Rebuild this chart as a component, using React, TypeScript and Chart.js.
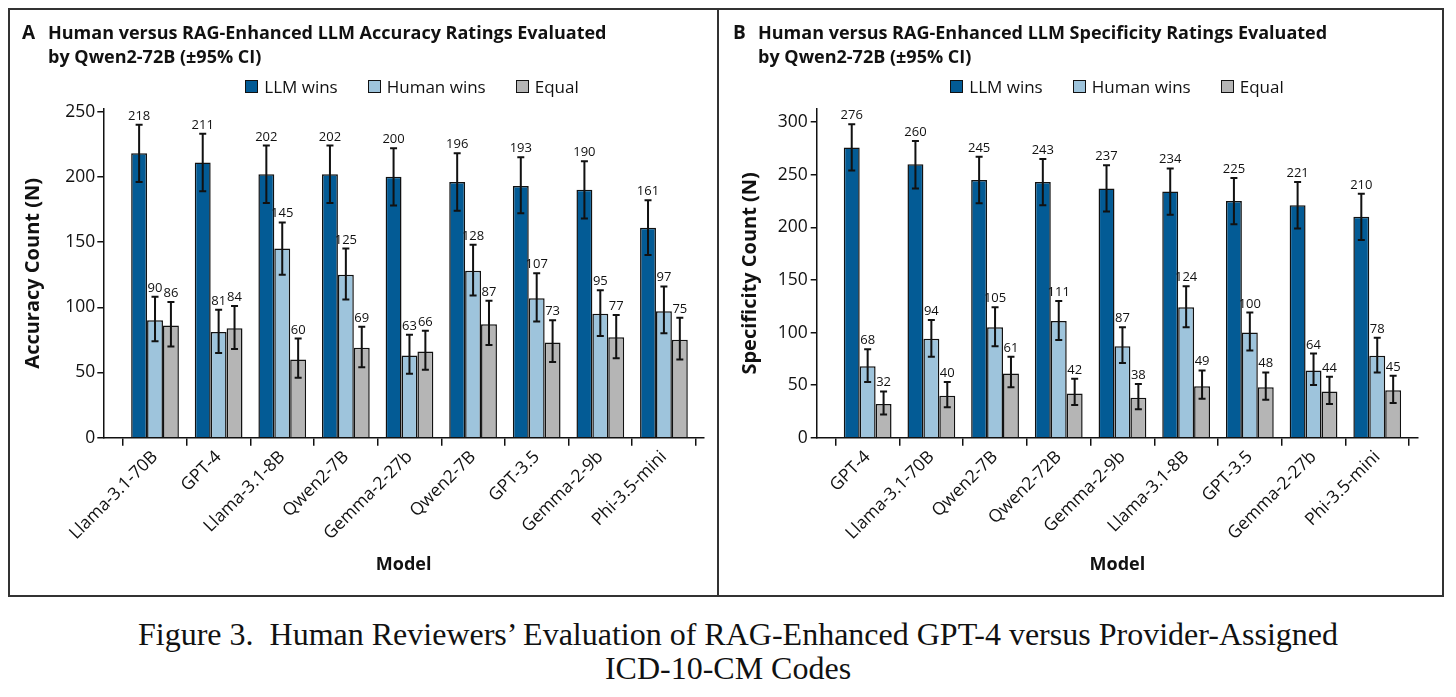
import React, { useEffect, useRef } from "react";
import { Chart, registerables } from "chart.js";
Chart.register(...registerables);

// ---------- Panel A: Accuracy ----------
const accCategories = ["Llama-3.1-70B", "GPT-4", "Llama-3.1-8B", "Qwen2-7B", "Gemma-2-27b", "Qwen2-7B", "GPT-3.5", "Gemma-2-9b", "Phi-3.5-mini"];
const accLLM = [218, 211, 202, 202, 200, 196, 193, 190, 161];
const accHuman = [90, 81, 145, 125, 63, 128, 107, 95, 97];
const accEqual = [86, 84, 60, 69, 66, 87, 73, 77, 75];
const accLLMLow = [196, 189, 180, 180, 178, 174, 172, 168, 140];
const accLLMHigh = [240, 233, 224, 224, 222, 218, 215, 212, 182];
const accHumanLow = [74, 65, 125, 106, 49, 109, 89, 78, 80];
const accHumanHigh = [108, 98, 165, 145, 79, 148, 126, 113, 116];
const accEqualLow = [70, 68, 46, 54, 52, 71, 58, 61, 60];
const accEqualHigh = [104, 101, 76, 85, 82, 105, 90, 94, 92];
const accTicks = [0, 50, 100, 150, 200, 250];

// ---------- Panel B: Specificity ----------
const specCategories = ["GPT-4", "Llama-3.1-70B", "Qwen2-7B", "Qwen2-72B", "Gemma-2-9b", "Llama-3.1-8B", "GPT-3.5", "Gemma-2-27b", "Phi-3.5-mini"];
const specLLM = [276, 260, 245, 243, 237, 234, 225, 221, 210];
const specHuman = [68, 94, 105, 111, 87, 124, 100, 64, 78];
const specEqual = [32, 40, 61, 42, 38, 49, 48, 44, 45];
const specLLMLow = [254, 237, 223, 221, 215, 212, 203, 199, 188];
const specLLMHigh = [298, 282, 267, 265, 259, 256, 247, 243, 232];
const specHumanLow = [53, 77, 87, 93, 71, 105, 83, 50, 62];
const specHumanHigh = [84, 112, 124, 130, 105, 144, 119, 80, 95];
const specEqualLow = [22, 29, 48, 31, 27, 37, 36, 32, 33];
const specEqualHigh = [44, 53, 77, 56, 51, 64, 62, 58, 59];
const specTicks = [0, 50, 100, 150, 200, 250, 300];

const seriesNames = ["LLM wins", "Human wins", "Equal"];
const seriesColors = ["#035b95", "#9ec4dc", "#b5b5b5"];

const SANS = "'Open Sans', 'Noto Sans', sans-serif";

const errorBarPlugin = {
  id: "errorBars",
  afterDatasetsDraw(chart: any) {
    const ctx = chart.ctx;
    const yScale = chart.scales.y;
    ctx.save();
    chart.data.datasets.forEach((ds: any, i: number) => {
      const meta = chart.getDatasetMeta(i);
      meta.data.forEach((el: any, j: number) => {
        const x = el.x;
        const yHi = yScale.getPixelForValue(ds.errHigh[j]);
        const yLo = yScale.getPixelForValue(ds.errLow[j]);
        ctx.strokeStyle = "#111";
        ctx.lineWidth = 2;
        ctx.beginPath();
        ctx.moveTo(x, yHi);
        ctx.lineTo(x, yLo);
        ctx.moveTo(x - 3.5, yHi);
        ctx.lineTo(x + 3.5, yHi);
        ctx.moveTo(x - 3.5, yLo);
        ctx.lineTo(x + 3.5, yLo);
        ctx.stroke();
        ctx.fillStyle = "#111";
        ctx.font = `13px ${SANS}`;
        ctx.textAlign = "center";
        ctx.textBaseline = "alphabetic";
        ctx.fillText(String(ds.data[j].y), x, yHi - 5);
      });
    });
    ctx.restore();
  },
};

type PanelProps = {
  categories: string[];
  llm: number[];
  human: number[];
  equal: number[];
  lows: number[][];
  highs: number[][];
  ticks: number[];
  yMax: number;
  yTitle: string;
  width: number;
  height: number;
  yWidth: number;
  xMin: number;
  xMax: number;
  padRight: number;
  yTitlePad: number;
  tickPad: number;
};

function Panel(p: PanelProps) {
  const ref = useRef<HTMLCanvasElement | null>(null);
  useEffect(() => {
    if (!ref.current) return;
    const series = [p.llm, p.human, p.equal];
    const chart = new Chart(ref.current, {
      type: "bar",
      data: {
        datasets: series.map((vals, k) => ({
          label: seriesNames[k],
          data: vals.map((v, i) => ({ x: i, y: v })),
          backgroundColor: seriesColors[k],
          borderColor: "#111",
          borderWidth: 1.5,
          categoryPercentage: 0.75,
          barPercentage: 1.0,
          errLow: p.lows[k],
          errHigh: p.highs[k],
        })) as any,
      },
      options: {
        responsive: false,
        animation: false,
        layout: { padding: { top: 99, right: p.padRight, left: 0, bottom: 0 } },
        plugins: { legend: { display: false }, tooltip: { enabled: false } },
        scales: {
          x: {
            type: "linear",
            min: p.xMin,
            max: p.xMax,
            offset: false,
            afterBuildTicks: (s: any) => {
              s.ticks = p.categories.map((_, i) => ({ value: i }));
            },
            afterFit: (s: any) => {
              s.height = p.height - 427.7;
            },
            ticks: {
              autoSkip: false,
              maxRotation: 45,
              minRotation: 45,
              padding: 1,
              color: "#111",
              font: { family: SANS, size: 17.5 },
              callback: (v: any) => p.categories[v as number] ?? "",
            },
            grid: { drawOnChartArea: false, drawTicks: true, tickLength: 8, color: "#111", lineWidth: 1.5 },
            border: { color: "#111", width: 1.5 },
            title: {
              display: true,
              text: "Model",
              color: "#111",
              font: { family: SANS, size: 18, weight: "bold" },
              padding: { top: 0, bottom: 19 },
            },
          },
          y: {
            min: 0,
            max: p.yMax,
            afterBuildTicks: (s: any) => {
              s.ticks = p.ticks.map((v) => ({ value: v }));
            },
            afterFit: (s: any) => {
              s.width = p.yWidth;
            },
            ticks: {
              padding: p.tickPad,
              color: "#111",
              font: { family: SANS, size: 17.5 },
            },
            grid: { drawOnChartArea: false, drawTicks: true, tickLength: 6, color: "#111", lineWidth: 1.5 },
            border: { color: "#111", width: 1.5 },
            title: {
              display: true,
              text: p.yTitle,
              color: "#111",
              font: { family: SANS, size: 20, weight: "bold" },
              padding: { top: p.yTitlePad, bottom: 0 },
            },
          },
        },
      } as any,
      plugins: [errorBarPlugin],
    });
    return () => chart.destroy();
  }, []);
  return <canvas ref={ref} width={p.width} height={p.height} style={{ display: "block" }} />;
}

function Legend({ center }: { center: number }) {
  return (
    <div
      style={{
        position: "absolute",
        left: center - 300,
        width: 600,
        top: 66,
        height: 24,
        display: "flex",
        justifyContent: "center",
        alignItems: "center",
        gap: 30,
        fontFamily: SANS,
        fontSize: 17,
        color: "#111",
      }}
    >
      {seriesNames.map((n, k) => (
        <div key={n} style={{ display: "flex", alignItems: "center", gap: 6 }}>
          <span
            style={{
              display: "inline-block",
              width: 11,
              height: 11,
              background: seriesColors[k],
              border: "1.5px solid #111",
            }}
          />
          <span>{n}</span>
        </div>
      ))}
    </div>
  );
}

function Title({ letter, letterLeft, textLeft, lines }: { letter: string; letterLeft: number; textLeft: number; lines: string[] }) {
  const common: React.CSSProperties = {
    position: "absolute",
    top: 12,
    fontFamily: SANS,
    fontWeight: 700,
    fontSize: 18,
    lineHeight: "24px",
    color: "#111",
    whiteSpace: "nowrap",
  };
  return (
    <>
      <div style={{ ...common, left: letterLeft, fontSize: 19 }}>{letter}</div>
      <div style={{ ...common, left: textLeft }}>
        {lines.map((l) => (
          <div key={l}>{l}</div>
        ))}
      </div>
    </>
  );
}

export default function App() {
  return (
    <div style={{ position: "relative", width: 1440, height: 681, background: "#fff" }}>
      <div
        style={{
          position: "absolute",
          left: 0,
          top: 0,
          width: 1436,
          height: 589,
          border: "2px solid #333",
          boxSizing: "border-box",
        }}
      />
      <div style={{ position: "absolute", left: 709, top: 0, width: 2, height: 589, background: "#333" }} />
      <div style={{ position: "absolute", left: 2, top: 2 }}>
        <Panel
          categories={accCategories}
          llm={accLLM}
          human={accHuman}
          equal={accEqual}
          lows={[accLLMLow, accHumanLow, accEqualLow]}
          highs={[accLLMHigh, accHumanHigh, accEqualHigh]}
          ticks={accTicks}
          yMax={252}
          yTitle="Accuracy Count (N)"
          width={707}
          height={585}
          yWidth={93.3}
          xMin={-0.813}
          xMax={8.63}
          padRight={13}
          yTitlePad={11}
          tickPad={2}
        />
      </div>
      <div style={{ position: "absolute", left: 711, top: 2 }}>
        <Panel
          categories={specCategories}
          llm={specLLM}
          human={specHuman}
          equal={specEqual}
          lows={[specLLMLow, specHumanLow, specEqualLow]}
          highs={[specLLMHigh, specHumanHigh, specEqualHigh]}
          ticks={specTicks}
          yMax={312.5}
          yTitle="Specificity Count (N)"
          width={723}
          height={585}
          yWidth={97.7}
          xMin={-0.8}
          xMax={8.64}
          padRight={24}
          yTitlePad={19}
          tickPad={3}
        />
      </div>
      <Title
        letter="A"
        letterLeft={14}
        textLeft={40}
        lines={["Human versus RAG-Enhanced LLM Accuracy Ratings Evaluated", "by Qwen2-72B (±95% CI)"]}
      />
      <Title
        letter="B"
        letterLeft={725}
        textLeft={750}
        lines={["Human versus RAG-Enhanced LLM Specificity Ratings Evaluated", "by Qwen2-72B (±95% CI)"]}
      />
      <Legend center={404} />
      <Legend center={1109} />
      <div
        style={{
          position: "absolute",
          left: 0,
          width: 1440,
          top: 609,
          textAlign: "center",
          fontFamily: "'Liberation Serif', 'DejaVu Serif', serif",
          fontSize: 32,
          lineHeight: "34px",
          color: "#111",
        }}
      >
        <div style={{ paddingLeft: 20 }}>Figure 3.&nbsp; Human Reviewers’ Evaluation of RAG-Enhanced GPT-4 versus Provider-Assigned</div>
        <div>ICD-10-CM Codes</div>
      </div>
    </div>
  );
}
